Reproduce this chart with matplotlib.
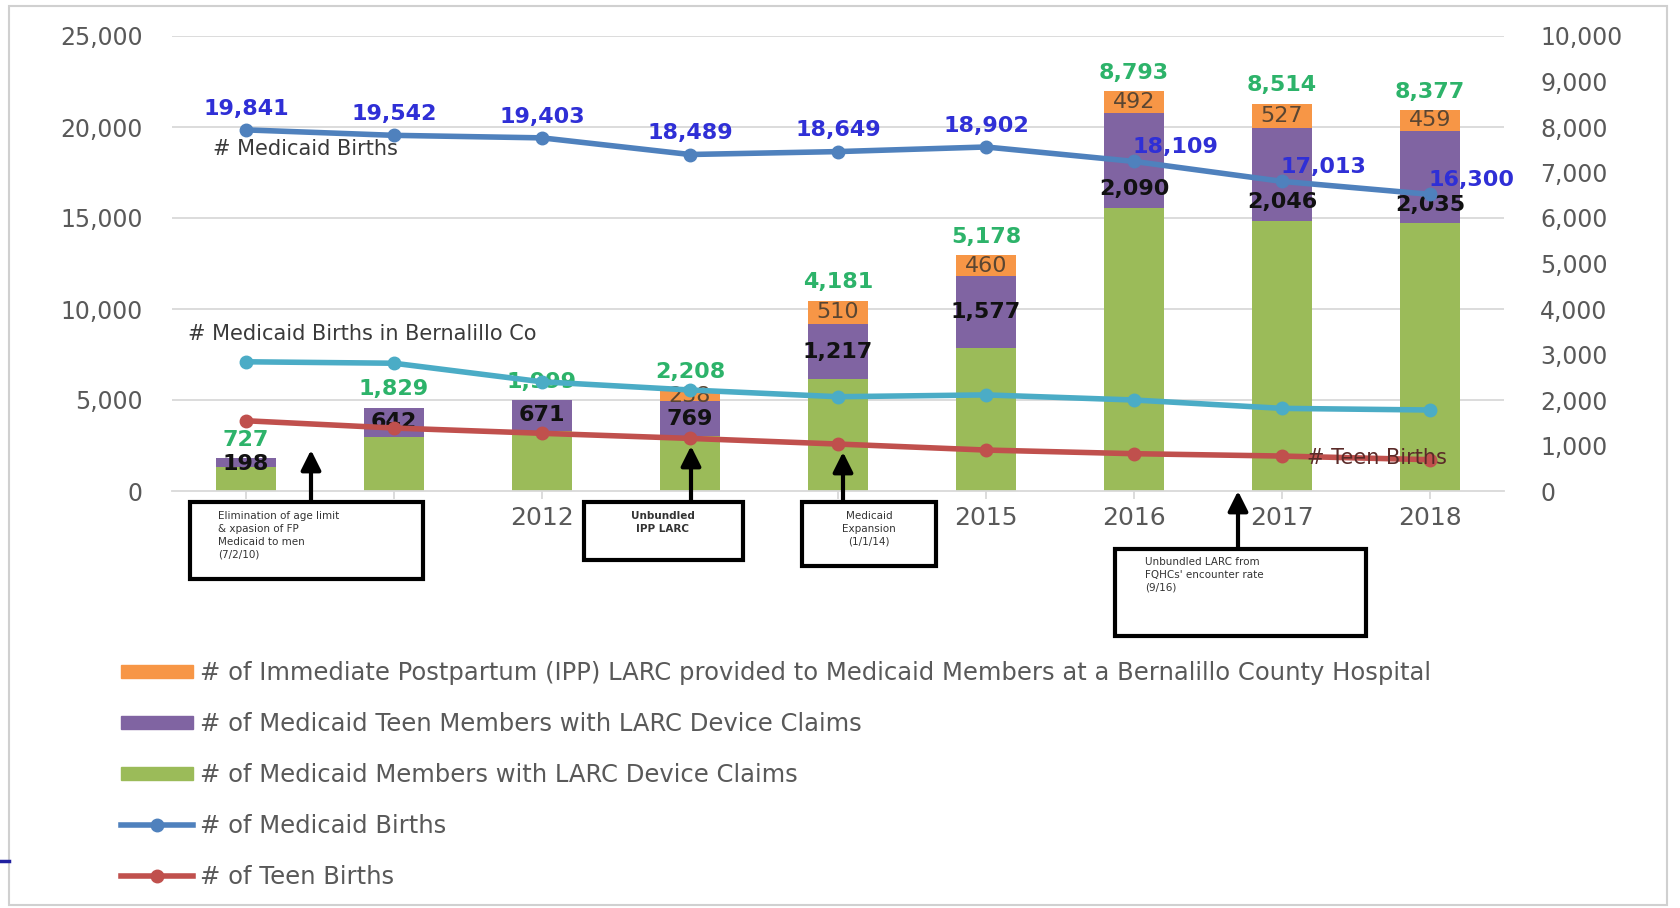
import matplotlib
matplotlib.use("Agg")
import matplotlib.pyplot as plt
from matplotlib.patches import Patch, Rectangle, FancyArrowPatch
from matplotlib.lines import Line2D
from matplotlib.ticker import FuncFormatter

# ---------------- data ----------------
years = ["2010", "2011", "2012", "2013", "2014", "2015", "2016", "2017", "2018"]
ipp_larc = [0, 0, 0, 238, 510, 460, 492, 527, 459]
teen_larc = [198, 642, 671, 769, 1217, 1577, 2090, 2046, 2035]
members_larc = [529, 1187, 1328, 1201, 2454, 3141, 6211, 5941, 5883]
total_larc = [727, 1829, 1999, 2208, 4181, 5178, 8793, 8514, 8377]
medicaid_births = [19841, 19542, 19403, 18489, 18649, 18902, 18109, 17013, 16300]
bernalillo_births = [7100, 7020, 6000, 5550, 5180, 5280, 5000, 4540, 4450]
teen_births = [3860, 3460, 3170, 2890, 2580, 2250, 2050, 1920, 1720]

left_ticks = [0, 5000, 10000, 15000, 20000, 25000]
right_ticks = list(range(0, 10001, 1000))

legend_labels = [
    "# of Immediate Postpartum (IPP) LARC provided to Medicaid Members at a Bernalillo County Hospital",
    "# of Medicaid Teen Members with LARC Device Claims",
    "# of Medicaid Members with LARC Device Claims",
    "# of Medicaid Births",
    "# of Teen Births",
]

C_ORANGE = "#F79646"
C_PURPLE = "#8064A2"
C_GREEN = "#9BBB59"
C_BLUE = "#4F81BD"
C_CYAN = "#4BACC6"
C_RED = "#C0504D"
C_GRID = "#D9D9D9"
C_TICK = "#595959"
C_LBL_BLUE = "#2F2FD6"
C_LBL_GREEN = "#2DB36A"

W, H = 1681, 908
fig = plt.figure(figsize=(W / 100, H / 100), dpi=100)


def fx(x):
    return x / W


def fy(y):
    return 1 - y / H


# axes rectangle (pixels): x 172..1504, y 36..491
ax2 = fig.add_axes([fx(172), fy(491), fx(1504) - fx(172), fy(36) - fy(491)])
ax = ax2.twinx()  # lines (left scale)
ax2.yaxis.tick_right()
ax2.yaxis.set_label_position("right")
ax.yaxis.tick_left()
ax.yaxis.set_label_position("left")

x = list(range(len(years)))
bw = 0.4

# ---- bars on right scale ----
ax2.set_ylim(0, 10000)
for v in left_ticks[1:]:
    ax2.axhline(v * 10000 / 25000, color=C_GRID, lw=1.3, zorder=0)

ax2.bar(x, members_larc, bw, color=C_GREEN, zorder=2)
bottom2 = [m for m in members_larc]
ax2.bar(x, teen_larc, bw, bottom=bottom2, color=C_PURPLE, zorder=2)
bottom3 = [m + t for m, t in zip(members_larc, teen_larc)]
ax2.bar(x, ipp_larc, bw, bottom=bottom3, color=C_ORANGE, zorder=2)

lab_font = dict(family="DejaVu Sans", fontsize=16, fontweight="bold")
for i in x:
    if i < 6:
        yp = members_larc[i] + teen_larc[i] / 2
        if i == 0:
            yp = members_larc[i] + teen_larc[i] * 0.35
    else:
        yp = members_larc[i] + teen_larc[i] * 0.2
    ax2.text(i, yp, f"{teen_larc[i]:,}", ha="center", va="center", color="#111111", zorder=5, **lab_font)
    if ipp_larc[i] > 0:
        yo = bottom3[i] + ipp_larc[i] / 2
        ax2.text(i, yo, f"{ipp_larc[i]:,}", ha="center", va="center", color="#5A4632",
                 zorder=5, family="DejaVu Sans", fontsize=16)
    top = bottom3[i] + ipp_larc[i]
    ax2.annotate(f"{total_larc[i]:,}", (i, top), xytext=(0, 6), textcoords="offset points",
                 ha="center", va="bottom", color=C_LBL_GREEN, zorder=5, **lab_font)

ax2.set_yticks(right_ticks)
ax2.yaxis.set_major_formatter(FuncFormatter(lambda v, p: f"{int(v):,}"))
ax2.tick_params(axis="y", length=0, pad=26, labelsize=17, labelcolor=C_TICK)
for lab in ax2.get_yticklabels():
    lab.set_ha("left")

# ---- lines on left scale ----
ax.set_zorder(ax2.get_zorder() + 1)
ax.patch.set_visible(False)
ax.set_ylim(0, 25000)
ax.plot(x, medicaid_births, color=C_BLUE, lw=4, marker="o", ms=9, zorder=4)
ax.plot(x, bernalillo_births, color=C_CYAN, lw=4, marker="o", ms=9, zorder=4)
ax.plot(x, teen_births, color=C_RED, lw=4, marker="o", ms=9, zorder=4)

for i in x:
    if i < 6:
        ax.annotate(f"{medicaid_births[i]:,}", (i, medicaid_births[i]), xytext=(0, 8),
                    textcoords="offset points", ha="center", va="bottom",
                    color=C_LBL_BLUE, zorder=6, **lab_font)
    else:
        ax.annotate(f"{medicaid_births[i]:,}", (i, medicaid_births[i]), xytext=(30, 3),
                    textcoords="offset points", ha="center", va="bottom",
                    color=C_LBL_BLUE, zorder=6, **lab_font)

series_font = dict(family="DejaVu Sans", fontsize=15, color="#3A3A3A")
ax.text(-0.22, 18800, "# Medicaid Births", ha="left", va="center", zorder=6, **series_font)
ax.text(-0.39, 8650, "# Medicaid Births in Bernalillo Co", ha="left", va="center", zorder=6, **series_font)
ax.text(7.17, 1800, "# Teen Births", ha="left", va="center", zorder=6,
        family="DejaVu Sans", fontsize=15, color="#5A2A28")

ax.set_yticks(left_ticks)
ax.yaxis.set_major_formatter(FuncFormatter(lambda v, p: f"{int(v):,}"))
ax.tick_params(axis="y", length=0, pad=21, labelsize=17, labelcolor=C_TICK)

ax2.set_xlim(-0.5, len(years) - 0.5)
ax2.set_xticks(x)
ax2.set_xticklabels(years)
ax2.tick_params(axis="x", length=6, color=C_GRID, width=1.3, pad=5, labelsize=18, labelcolor=C_TICK)
ax.tick_params(axis="x", length=0, labelbottom=False)

for a in (ax, ax2):
    for s in ("top", "left", "right", "bottom"):
        a.spines[s].set_visible(False)
ax2.spines["bottom"].set_visible(True)
ax2.spines["bottom"].set_color(C_GRID)
ax2.spines["bottom"].set_linewidth(1.3)

# ---- outer chart border ----
fig.add_artist(Rectangle((fx(9), fy(905)), fx(1667) - fx(9), fy(6) - fy(905),
                         transform=fig.transFigure, fill=False, ec="#D0D0D0", lw=1.5, zorder=0))
fig.add_artist(Line2D([fx(0), fx(9)], [fy(861), fy(861)], transform=fig.transFigure,
                      color="#2020A0", lw=2.5))


# ---- annotation boxes ----
def box(x0, y0, x1, y1, text, tx, ty, ha="left", bold=False):
    fig.add_artist(Rectangle((fx(x0), fy(y1)), fx(x1) - fx(x0), fy(y0) - fy(y1),
                             transform=fig.transFigure, fc="white", ec="black", lw=3, zorder=10))
    fig.text(fx(tx), fy(ty), text, ha=ha, va="top", fontsize=7.5, color="#333333",
             fontweight="bold" if bold else "normal", linespacing=1.35, zorder=11,
             family="DejaVu Sans")


def arrow(xp, y_from, y_to):
    fig.add_artist(FancyArrowPatch(
        (fx(xp), fy(y_from)), (fx(xp), fy(y_to)), transform=fig.transFigure,
        arrowstyle="-|>,head_length=12,head_width=6", mutation_scale=1,
        color="black", lw=3, zorder=12, shrinkA=0, shrinkB=0))


box(190, 502, 423, 579, "Elimination of age limit\n& xpasion of FP\nMedicaid to men\n(7/2/10)", 218, 511)
arrow(311, 502, 450)
box(584, 502, 743, 560, "Unbundled\nIPP LARC", 663, 511, ha="center", bold=True)
arrow(691, 502, 446)
box(802, 502, 936, 566, "Medicaid\nExpansion\n(1/1/14)", 869, 511, ha="center")
arrow(843, 502, 452)
box(1115, 549, 1366, 636, "Unbundled LARC from\nFQHCs' encounter rate\n(9/16)", 1145, 557)
arrow(1238, 549, 491)

# ---- legend ----
handles = [
    Patch(color=C_ORANGE),
    Patch(color=C_PURPLE),
    Patch(color=C_GREEN),
    Line2D([], [], color=C_BLUE, lw=4, marker="o", ms=9),
    Line2D([], [], color=C_RED, lw=4, marker="o", ms=9),
]
leg = fig.legend(handles, legend_labels, loc="upper left", bbox_to_anchor=(fx(121), fy(661)),
                 frameon=False, handlelength=2.95, handleheight=0.45,
                 handletextpad=0.3, labelspacing=1.11, borderpad=0, borderaxespad=0,
                 prop=dict(family="DejaVu Sans", size=17.5))
for t in leg.get_texts():
    t.set_color(C_TICK)

fig.savefig("out.png", dpi=100)
